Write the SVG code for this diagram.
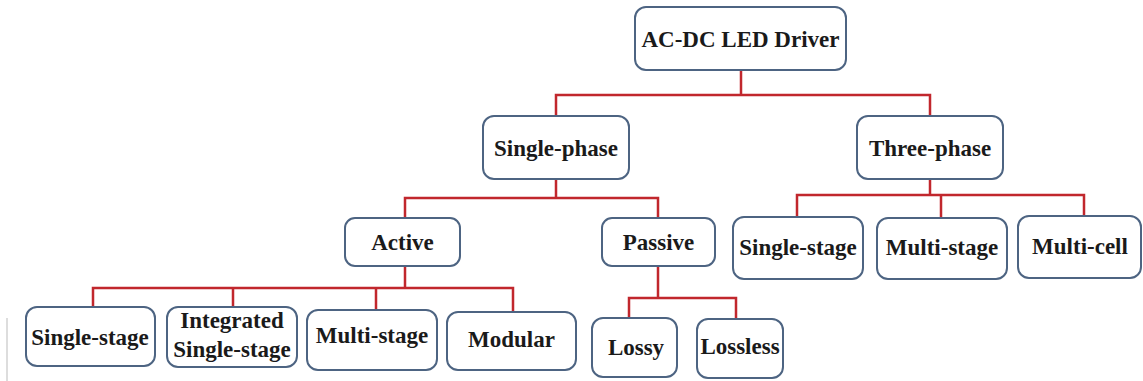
<svg xmlns="http://www.w3.org/2000/svg" width="1143" height="381" viewBox="0 0 1143 381">
<style>
.box{fill:#ffffff;stroke:#4d6482;stroke-width:2}
.lbl{font-family:"Liberation Serif","Times New Roman",serif;font-weight:bold;font-size:23px;fill:#1a1a1a;text-anchor:middle}
.con{fill:none;stroke:#c1272d;stroke-width:2.5}
</style>
<rect width="1143" height="381" fill="#ffffff"/>
<line x1="7" y1="318" x2="7" y2="381" stroke="#dddddd" stroke-width="2"/>
<g id="connectors">
<path class="con" d="M741 70V95M556 116V95H930V116"/>
<path class="con" d="M556 179V198M405 218V198H658V218"/>
<path class="con" d="M930 179V195M797 217V195H1084V216M941 195V218"/>
<path class="con" d="M405 266V288M93 307V288H513V312M233 288V307M376 288V310"/>
<path class="con" d="M658 266V298M629 318V298H736V319"/>
</g>
<g id="root"><rect class="box" x="635" y="7" width="211" height="63" rx="11"/><text class="lbl" x="740.5" y="47">AC-DC LED Driver</text></g>
<g id="single-phase"><rect class="box" x="483" y="116" width="146" height="63" rx="11"/><text class="lbl" x="556" y="156">Single-phase</text></g>
<g id="three-phase"><rect class="box" x="857" y="116" width="146" height="63" rx="11"/><text class="lbl" x="930" y="156">Three-phase</text></g>
<g id="active"><rect class="box" x="345" y="218" width="115" height="48" rx="10"/><text class="lbl" x="402.5" y="250">Active</text></g>
<g id="passive"><rect class="box" x="602" y="218" width="113" height="48" rx="10"/><text class="lbl" x="658.5" y="250">Passive</text></g>
<g id="tp-single-stage"><rect class="box" x="733" y="217" width="130" height="62" rx="11"/><text class="lbl" x="798" y="255">Single-stage</text></g>
<g id="tp-multi-stage"><rect class="box" x="877" y="218" width="130" height="61" rx="11"/><text class="lbl" x="942" y="255">Multi-stage</text></g>
<g id="tp-multi-cell"><rect class="box" x="1018" y="216" width="123" height="62" rx="11"/><text class="lbl" x="1080" y="254">Multi-cell</text></g>
<g id="a-single-stage"><rect class="box" x="26" y="307" width="129" height="59" rx="11"/><text class="lbl" x="90" y="345">Single-stage</text></g>
<g id="a-integrated"><rect class="box" x="167" y="307" width="130" height="60" rx="11"/><text class="lbl" x="232" y="328">Integrated</text><text class="lbl" x="232" y="357">Single-stage</text></g>
<g id="a-multi-stage"><rect class="box" x="307" y="310" width="130" height="60" rx="11"/><text class="lbl" x="372" y="343">Multi-stage</text></g>
<g id="a-modular"><rect class="box" x="447" y="312" width="129" height="58" rx="11"/><text class="lbl" x="511.5" y="347">Modular</text></g>
<g id="p-lossy"><rect class="box" x="592" y="318" width="85" height="59" rx="11"/><text class="lbl" x="636" y="355">Lossy</text></g>
<g id="p-lossless"><rect class="box" x="697" y="319" width="86" height="59" rx="11"/><text class="lbl" x="740" y="354">Lossless</text></g>
</svg>
